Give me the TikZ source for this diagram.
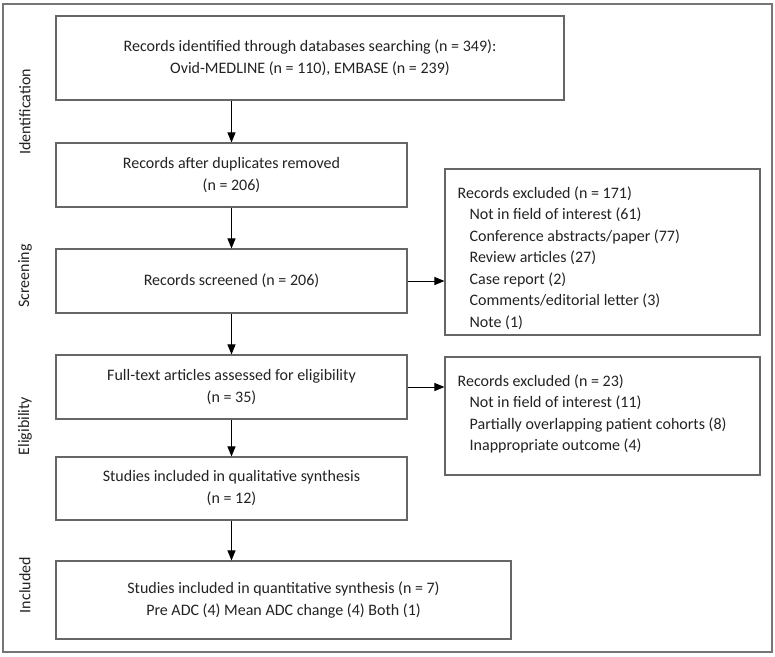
\documentclass[tikz,border=0pt]{standalone}
\usepackage{fontspec}
\setmainfont{Carlito}
\usetikzlibrary{arrows.meta}
\definecolor{boxline}{HTML}{666666}
\definecolor{txt}{HTML}{222222}
\begin{document}
\begin{tikzpicture}[x=1pt,y=-1pt,
  box/.style={draw=boxline,line width=1.1pt,text=txt,align=center,inner sep=0pt,
    font=\fontsize{16}{22}\selectfont},
  exbox/.style={draw=boxline,line width=1.1pt,inner sep=0pt,minimum width=315pt},
  extext/.style={text=txt,align=left,inner sep=0pt,anchor=north west,
    font=\fontsize{16}{21.5}\selectfont},
  phase/.style={rotate=90,text=txt,font=\fontsize{16}{20}\selectfont,inner sep=0pt},
  arr/.style={-{Triangle[length=10pt,width=8pt]},line width=1pt,black}]
\useasboundingbox (0,0) rectangle (775,656);
\draw[draw=boxline!90,line width=1.1pt] (3,4) rectangle (772,652);
% main boxes
\node[box,minimum width=508pt,minimum height=84pt] (b1) at (310,58)
  {Records identified through databases searching (n = 349):\\Ovid-MEDLINE (n = 110), EMBASE (n = 239)};
\node[box,minimum width=351pt,minimum height=64pt] (b2) at (231.5,175)
  {Records after duplicates removed\\(n = 206)};
\node[box,minimum width=351pt,minimum height=64pt] (b3) at (231.5,281)
  {Records screened (n = 206)};
\node[box,minimum width=351pt,minimum height=64pt] (b4) at (231.5,387)
  {Full-text articles assessed for eligibility\\(n = 35)};
\node[box,minimum width=351pt,minimum height=63pt] (b5) at (231.5,488.5)
  {Studies included in qualitative synthesis\\(n = 12)};
\node[box,minimum width=455pt,minimum height=78pt] (b6) at (283.5,600)
  {Studies included in quantitative synthesis (n = 7)\\Pre ADC (4) Mean ADC change (4) Both (1)};
% exclusion boxes
\node[exbox,minimum height=166pt] (e1) at (602.5,252) {};
\node[extext] (e1t) at ([xshift=13pt,yshift=-18pt]e1.north west)
  {Records excluded (n = 171)\\
   \hspace*{12pt}Not in field of interest (61)\\
   \hspace*{12pt}Conference abstracts/paper (77)\\
   \hspace*{12pt}Review articles (27)\\
   \hspace*{12pt}Case report (2)\\
   \hspace*{12pt}Comments/editorial letter (3)\\
   \hspace*{12pt}Note (1)};
\node[exbox,minimum height=118pt] (e2) at (602.5,416) {};
\node[extext] (e2t) at ([xshift=13pt,yshift=-18pt]e2.north west)
  {Records excluded (n = 23)\\
   \hspace*{12pt}Not in field of interest (11)\\
   \hspace*{12pt}Partially overlapping patient cohorts (8)\\
   \hspace*{12pt}Inappropriate outcome (4)};
% phase labels
\node[phase] (p1) at (25,112) {Identification};
\node[phase] (p2) at (25,276) {Screening};
\node[phase] (p3) at (25,426) {Eligibility};
\node[phase] (p4) at (25,585) {Included};
% connectors
\draw[arr] (b1.south -| b2.north) -- (b2.north);
\draw[arr] (b2.south) -- (b3.north);
\draw[arr] (b3.south) -- (b4.north);
\draw[arr] (b4.south) -- (b5.north);
\draw[arr] (b5.south) -- (b5.south |- b6.north);
\draw[arr] (b3.east) -- (b3.east -| e1.west);
\draw[arr] (b4.east) -- (b4.east -| e2.west);
\end{tikzpicture}
\end{document}
